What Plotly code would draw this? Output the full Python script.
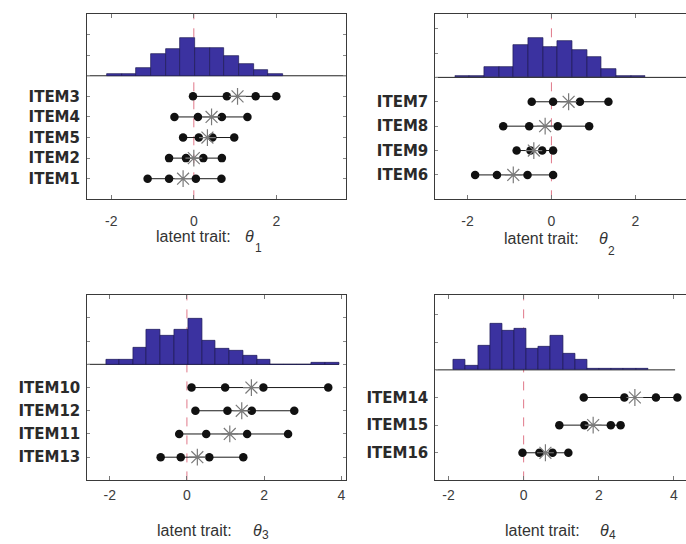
import plotly.graph_objects as go

# ---------------- data ----------------
# Panel 1 (theta 1): items listed bottom -> top
items_1 = ["ITEM1", "ITEM2", "ITEM5", "ITEM4", "ITEM3"]
thresholds_1 = [
    [-1.12, -0.60, 0.05, 0.67],
    [-0.60, -0.19, 0.23, 0.68],
    [-0.26, 0.12, 0.45, 0.98],
    [-0.47, 0.10, 0.68, 1.30],
    [-0.02, 0.80, 1.50, 2.00],
]
location_1 = [-0.26, 0.00, 0.33, 0.43, 1.06]
hist_edges_1 = [-2.10, -1.75, -1.39, -1.04, -0.68, -0.33, 0.03, 0.39, 0.74,
                1.10, 1.45, 1.81, 2.16]
hist_counts_1 = [3, 3, 16, 44, 53, 76, 56, 56, 39, 23, 12, 4]

# Panel 2 (theta 2)
items_2 = ["ITEM6", "ITEM9", "ITEM8", "ITEM7"]
thresholds_2 = [
    [-1.82, -1.30, -0.57, 0.04],
    [-0.83, -0.50, -0.22, 0.04],
    [-1.15, -0.53, 0.15, 0.90],
    [-0.47, 0.04, 0.68, 1.36],
]
location_2 = [-0.91, -0.42, -0.15, 0.41]
hist_edges_2 = [-2.30, -1.95, -1.60, -1.25, -0.90, -0.55, -0.20, 0.15, 0.50,
                0.85, 1.20, 1.55, 1.90, 2.25]
hist_counts_2 = [3, 3, 21, 21, 64, 78, 60, 73, 55, 41, 17, 3, 3]

# Panel 3 (theta 3)
items_3 = ["ITEM13", "ITEM11", "ITEM12", "ITEM10"]
thresholds_3 = [
    [-0.68, -0.16, 0.58, 1.46],
    [-0.20, 0.50, 1.56, 2.62],
    [0.22, 1.05, 1.68, 2.78],
    [0.12, 0.99, 1.98, 3.66],
]
location_3 = [0.27, 1.11, 1.42, 1.67]
hist_edges_3 = [-2.10, -1.75, -1.39, -1.04, -0.68, -0.33, 0.03, 0.39, 0.74,
                1.10, 1.45, 1.81, 2.16, 2.52, 2.87, 3.23, 3.58, 3.94]
hist_counts_3 = [9, 9, 33, 69, 58, 69, 91, 47, 32, 27, 17, 9, 0, 0, 0, 4, 4]

# Panel 4 (theta 4)
items_4 = ["ITEM16", "ITEM15", "ITEM14"]
thresholds_4 = [
    [-0.03, 0.42, 0.77, 1.19],
    [0.95, 1.62, 2.32, 2.58],
    [1.60, 2.68, 3.52, 4.09],
]
location_4 = [0.58, 1.85, 2.96]
hist_edges_4 = [-1.86, -1.54, -1.21, -0.89, -0.57, -0.25, 0.08, 0.40, 0.72,
                1.05, 1.37, 1.69, 2.02, 2.34, 2.66, 2.99, 3.31]
hist_counts_4 = [20, 8, 48, 92, 79, 82, 43, 46, 68, 33, 20, 3, 3, 3, 3, 3]

x_tick_values_12 = [-2, 0, 2]
x_tick_values_34 = [-2, 0, 2, 4]
trait_subscripts = ["1", "2", "3", "4"]

# ---------------- layout geometry (pixels) ----------------
W, H = 686, 544


def px_x(x):
    return x / W


def px_y(y):
    return 1 - y / H


panels = [
    dict(items=items_1, thr=thresholds_1, loc=location_1,
         edges=hist_edges_1, counts=hist_counts_1,
         xd=(87, 346), yd=(14, 199.3), xr=(-2.59, 3.69), yr=(0, 9), base=6,
         base_end=3.69, ticks=x_tick_values_12, right_line=True,
         label_x=193, label_y=236, theta_x=250, sub_dy=12, standoff=9),
    dict(items=items_2, thr=thresholds_2, loc=location_2,
         edges=hist_edges_2, counts=hist_counts_2,
         xd=(435.3, 686), yd=(14, 199.3), xr=(-2.77, 3.21), yr=(0, 7.6), base=5,
         base_end=3.21, ticks=x_tick_values_12, right_line=False,
         label_x=541.5, label_y=238, theta_x=603, sub_dy=13, standoff=9),
    dict(items=items_3, thr=thresholds_3, loc=location_3,
         edges=hist_edges_3, counts=hist_counts_3,
         xd=(87.3, 346), yd=(294.7, 480.4), xr=(-2.58, 4.12), yr=(0, 8), base=5,
         base_end=3.94, ticks=x_tick_values_34, right_line=True,
         label_x=194.5, label_y=530, theta_x=257, sub_dy=5, standoff=2),
    dict(items=items_4, thr=thresholds_4, loc=location_4,
         edges=hist_edges_4, counts=hist_counts_4,
         xd=(435.3, 686), yd=(294.7, 480.4), xr=(-2.35, 4.32), yr=(0, 6.72), base=4,
         base_end=4.03, ticks=x_tick_values_34, right_line=False,
         label_x=542.5, label_y=530, theta_x=604, sub_dy=5, standoff=2),
]

COUNTS_PER_PX = 2.0
BAR_FILL = "#3b32a0"
BAR_EDGE = "#1d1a55"
FRAME = "#3a3a3a"
ZERO_LINE = "#e0788a"
TEXT_FAMILY = "Liberation Sans, Arial, sans-serif"
TICK_FONT = dict(family=TEXT_FAMILY, size=14, color="#3c3c3c")
ITEM_FONT = dict(family="DejaVu Sans, sans-serif", size=15, color="#2a2a2a", weight="bold")

fig = go.Figure()
layout = dict(width=W, height=H, margin=dict(l=0, r=0, t=0, b=0),
              paper_bgcolor="white", plot_bgcolor="white", showlegend=False,
              bargap=0)
annotations = []


def axis_id(letter, k):
    return letter if k == 1 else f"{letter}{k}"


for i, p in enumerate(panels):
    k = i + 1
    hist_k = k + 4
    xa, ya = axis_id("x", k), axis_id("y", k)
    x_key, y_key = axis_id("xaxis", k), axis_id("yaxis", k)
    n_items = len(p["items"])
    y0, y1 = p["yr"]

    layout[x_key] = dict(
        domain=[px_x(p["xd"][0]), px_x(p["xd"][1])], anchor=ya,
        range=list(p["xr"]), tickmode="array", tickvals=p["ticks"],
        ticktext=[str(t) for t in p["ticks"]], ticks="inside", ticklen=4,
        tickcolor="#777", showline=True, linecolor=FRAME, linewidth=1,
        mirror="ticks", showgrid=False, zeroline=False, tickfont=TICK_FONT,
        ticklabelstandoff=p["standoff"], fixedrange=True,
    )
    layout[y_key] = dict(
        domain=[px_y(p["yd"][1]), px_y(p["yd"][0])], anchor=xa,
        range=[y0, y1], tickmode="array",
        tickvals=list(range(1, n_items + 1)), ticktext=p["items"],
        ticks="inside", ticklen=3, tickcolor="#888",
        minor=dict(ticks="inside", ticklen=3, tickcolor="#888", tick0=0, dtick=1,
                   showgrid=False),
        showline=True, linecolor=FRAME, linewidth=1,
        mirror="ticks" if p["right_line"] else False,
        showgrid=False, zeroline=False, tickfont=ITEM_FONT,
        ticklabelstandoff=3, fixedrange=True,
    )

    # overlaid count axis for the histogram, zero aligned with the baseline
    panel_px = p["yd"][1] - p["yd"][0]
    below = (p["base"] - y0) / (y1 - y0) * panel_px * COUNTS_PER_PX
    above = (y1 - p["base"]) / (y1 - y0) * panel_px * COUNTS_PER_PX
    layout[f"yaxis{hist_k}"] = dict(overlaying=ya, anchor=xa, range=[-below, above],
                                    visible=False, fixedrange=True)

    # zero reference line (drawn first so that bars and markers sit on top)
    fig.add_trace(go.Scatter(x=[0, 0], y=[y0, y1], mode="lines",
                             line=dict(color=ZERO_LINE, width=1, dash="dash"),
                             xaxis=xa, yaxis=ya, hoverinfo="skip"))

    # histogram of the latent trait
    edges = p["edges"]
    centers = [(a + b) / 2 for a, b in zip(edges[:-1], edges[1:])]
    widths = [b - a for a, b in zip(edges[:-1], edges[1:])]
    fig.add_trace(go.Bar(x=centers, y=p["counts"], width=widths,
                         marker=dict(color=BAR_FILL, line=dict(color=BAR_EDGE, width=0.7)),
                         xaxis=xa, yaxis=f"y{hist_k}", hoverinfo="skip"))

    # histogram baseline
    fig.add_trace(go.Scatter(x=[p["xr"][0], p["base_end"]], y=[p["base"], p["base"]],
                             mode="lines", line=dict(color="#222", width=1),
                             xaxis=xa, yaxis=ya, hoverinfo="skip"))

    # item thresholds and locations
    for j, (name, thr, loc) in enumerate(zip(p["items"], p["thr"], p["loc"])):
        ypos = j + 1
        fig.add_trace(go.Scatter(x=thr, y=[ypos] * len(thr), mode="lines+markers",
                                 line=dict(color="#1a1a1a", width=1),
                                 marker=dict(color="#111", size=8.5),
                                 xaxis=xa, yaxis=ya, name=name))
        fig.add_trace(go.Scatter(x=[loc], y=[ypos], mode="markers",
                                 marker=dict(symbol="asterisk-open", size=14,
                                             color="#7a7a7a",
                                             line=dict(color="#7a7a7a", width=1.2)),
                                 xaxis=xa, yaxis=ya, name=name))

    # axis label: "latent trait:  θ_k"
    label_font = dict(family=TEXT_FAMILY, size=16, color="#333")
    annotations.append(dict(
        xref="paper", yref="paper", x=px_x(p["label_x"]), y=px_y(p["label_y"]),
        xanchor="center", yanchor="middle", showarrow=False,
        text="latent trait:", font=label_font))
    annotations.append(dict(
        xref="paper", yref="paper", x=px_x(p["theta_x"]), y=px_y(p["label_y"]),
        xanchor="center", yanchor="middle", showarrow=False,
        text="θ", font=dict(label_font, style="italic")))
    annotations.append(dict(
        xref="paper", yref="paper", x=px_x(p["theta_x"] + 8),
        y=px_y(p["label_y"] + p["sub_dy"]),
        xanchor="center", yanchor="middle", showarrow=False,
        text=trait_subscripts[i], font=dict(label_font, size=12)))

layout["annotations"] = annotations
fig.update_layout(**layout)

fig.write_html("out.html")
